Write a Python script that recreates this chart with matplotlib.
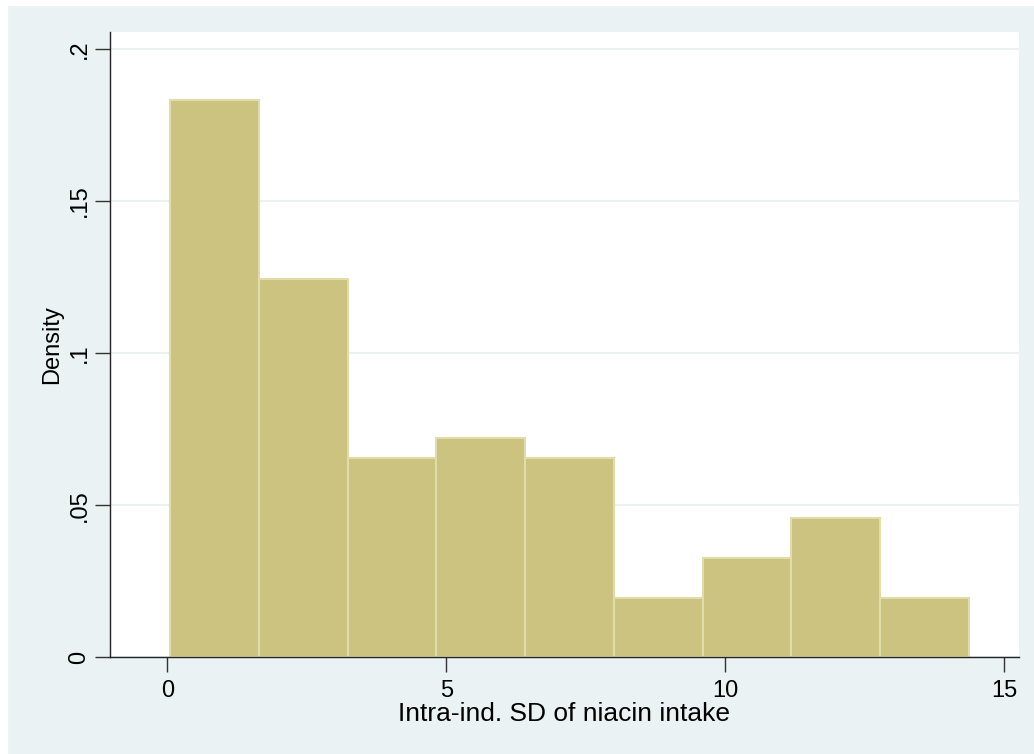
import numpy as np
import matplotlib
matplotlib.use("Agg")
import matplotlib.pyplot as plt
from matplotlib.patches import Rectangle

# histogram of intra-individual SD of niacin intake (density scale)
bin_start = 0.048
bin_width = 1.5916
density = [0.1833, 0.1244, 0.0655, 0.0720, 0.0655, 0.0196, 0.0327, 0.0458, 0.0196]
xticks = [0, 5, 10, 15]
xticklabels = ["0", "5", "10", "15"]
yticks = [0, 0.05, 0.1, 0.15, 0.2]
yticklabels = ["0", ".05", ".1", ".15", ".2"]

plt.rcParams["font.family"] = ["Liberation Sans", "DejaVu Sans"]

bg = "#eaf2f3"
fig = plt.figure(figsize=(10.34, 7.54), dpi=100, facecolor=bg)
# thin white strip at top and left, like the exported graph
fig.patches.append(Rectangle((0, 0), 7 / 1034, 1, transform=fig.transFigure, color="white", zorder=-1))
fig.patches.append(Rectangle((0, 1 - 5 / 754), 1, 5 / 754, transform=fig.transFigure, color="white", zorder=-1))

ax = fig.add_axes([110 / 1034, 1 - 657.3 / 754, 909 / 1034, (657.3 - 32) / 754])
ax.set_facecolor("white")

edges = bin_start + bin_width * np.arange(len(density))
ax.bar(edges, density, width=bin_width, align="edge", color="#cbc37f",
       edgecolor="#e2dcaa", linewidth=1.5, zorder=2)

ax.set_xlim(-1.03, 15.27)
ax.set_ylim(0, 0.2056)

ax.set_yticks(yticks)
ax.set_yticklabels(yticklabels, rotation=90, va="center")
ax.set_xticks(xticks)
ax.set_xticklabels(xticklabels)
ax.tick_params(axis="both", length=11, width=1, color="#333333", labelsize=17)
ax.tick_params(axis="x", pad=5)
ax.tick_params(axis="y", pad=3)
ax.grid(axis="y", color=bg, linewidth=1.5, zorder=1)
ax.set_axisbelow(True)

for s in ["top", "right"]:
    ax.spines[s].set_visible(False)
for s in ["left", "bottom"]:
    ax.spines[s].set_color("#222222")
    ax.spines[s].set_linewidth(1)

ax.set_xlabel("Intra-ind. SD of niacin intake", fontsize=19, labelpad=0)
ax.set_ylabel("Density", fontsize=17, labelpad=4)

fig.savefig("out.png", dpi=100, facecolor=bg)
